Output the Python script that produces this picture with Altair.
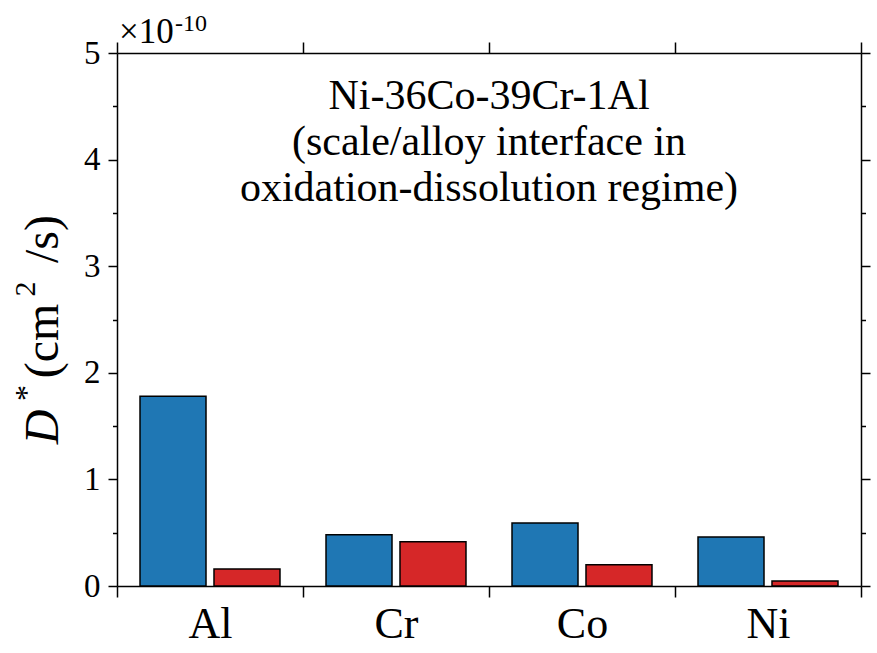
import altair as alt
import pandas as pd

elements = ["Al", "Cr", "Co", "Ni"]
series = ["blue", "red"]
values_blue = [1.78, 0.48, 0.59, 0.46]
values_red = [0.16, 0.415, 0.20, 0.047]
colors = ["#1f77b4", "#d62728"]
y_tick_values = [0, 0.5, 1, 1.5, 2, 2.5, 3, 3.5, 4, 4.5, 5]
note_lines = ["Ni-36Co-39Cr-1Al", "(scale/alloy interface in", "oxidation-dissolution regime)"]
exp_base = "×10"
exp_power = "-10"

rows = []
for e, b, r in zip(elements, values_blue, values_red):
    rows.append({"element": e, "series": "blue", "value": b})
    rows.append({"element": e, "series": "red", "value": r})
df = pd.DataFrame(rows)

FONT = "Liberation Serif"
W, H = 744, 533

minor_size = {"condition": {"test": "datum.value % 1 != 0", "value": 4.5}, "value": 9}

x_bottom = alt.X(
    "element:N", sort=elements, title=None,
    scale=alt.Scale(paddingInner=0, paddingOuter=0),
    axis=alt.Axis(orient="bottom", tickBand="extent", tickSize=11, tickWidth=1.5,
                  domainWidth=1.5, domainColor="black", tickColor="black",
                  labelFont=FONT, labelFontSize=44, labelColor="black",
                  labelPadding=5, labelAngle=0, grid=False),
)
y_left = alt.Y(
    "value:Q", title=None,
    scale=alt.Scale(domain=[0, 5], nice=False, zero=True),
    axis=alt.Axis(orient="left", values=y_tick_values, tickSize=minor_size, tickWidth=1.5,
                  domainWidth=1.5, domainColor="black", tickColor="black",
                  labelExpr="datum.value % 1 == 0 ? format(datum.value, 'd') : ''",
                  labelFont=FONT, labelFontSize=33, labelColor="black",
                  labelPadding=8, grid=False, labelBound=False),
)
x_offset = alt.XOffset("series:N", sort=series,
                       scale=alt.Scale(paddingInner=0.108, paddingOuter=0.311))
color = alt.Color("series:N", scale=alt.Scale(domain=series, range=colors), legend=None)

bars = alt.Chart(df).mark_bar(stroke="black", strokeWidth=1.5).encode(
    x=x_bottom, y=y_left, xOffset=x_offset, color=color
)

frame = alt.Chart(df).mark_bar(opacity=0).encode(
    x=alt.X("element:N", sort=elements, title=None,
            axis=alt.Axis(orient="top", tickBand="extent", tickSize=11, tickWidth=1.5,
                          domainWidth=1.5, domainColor="black", tickColor="black",
                          labels=False, grid=False)),
    y=alt.Y("value:Q", title=None,
            axis=alt.Axis(orient="right", values=y_tick_values, tickSize=minor_size,
                          tickWidth=1.5, domainWidth=1.5, domainColor="black",
                          tickColor="black", labels=False, grid=False)),
    xOffset=x_offset,
)

one = pd.DataFrame({"k": [0]})

note = alt.Chart(one).mark_text(
    text=note_lines, font=FONT, fontSize=42, lineHeight=46, align="center",
    baseline="alphabetic", color="black"
).encode(x=alt.value(W / 2), y=alt.value(56))

exp1 = alt.Chart(one).mark_text(
    text=exp_base, font=FONT, fontSize=35, align="left", baseline="alphabetic", color="black"
).encode(x=alt.value(2), y=alt.value(-10))
exp2 = alt.Chart(one).mark_text(
    text=exp_power, font=FONT, fontSize=24, align="left", baseline="alphabetic", color="black"
).encode(x=alt.value(58), y=alt.value(-22))

def ylab(txt, x, y, size, style="normal"):
    return alt.Chart(one).mark_text(
        text=txt, font=FONT, fontSize=size, fontStyle=style, angle=270,
        align="center", baseline="alphabetic", color="black"
    ).encode(x=alt.value(x), y=alt.value(y))

ytitle = [
    ylab("D", -59, 374, 48, "italic"),
    ylab("*", -80, 340, 32),
    ylab("(cm", -59, 288, 48),
    ylab("2", -82, 236, 30),
    ylab("/s)", -59, 186, 48),
]

chart = alt.layer(bars, frame, note, exp1, exp2, *ytitle).resolve_axis(
    x="independent", y="independent"
).properties(
    width=W, height=H,
    autosize=alt.AutoSizeParams(type="none"),
    padding={"left": 117, "top": 53, "right": 16, "bottom": 67},
    background="white",
).configure_view(stroke=None)

chart.save("out.html", embed_options={"renderer": "svg", "actions": False})
